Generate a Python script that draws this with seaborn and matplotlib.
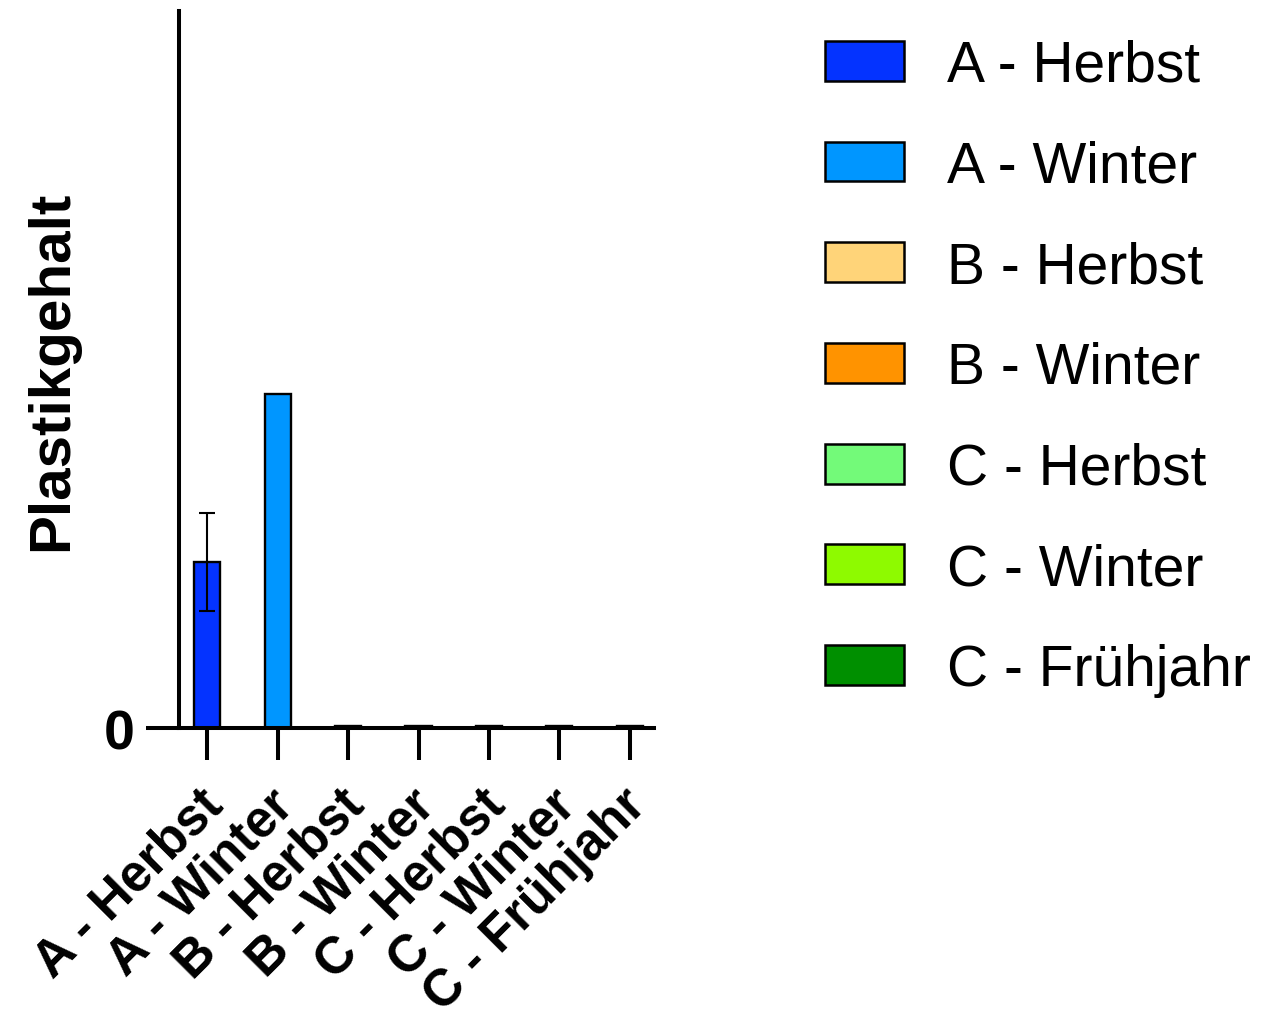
import matplotlib
matplotlib.use("Agg")
import matplotlib.pyplot as plt
import matplotlib.transforms as mtransforms
import seaborn as sns
import pandas as pd

categories = ["A - Herbst", "A - Winter", "B - Herbst", "B - Winter",
              "C - Herbst", "C - Winter", "C - Frühjahr"]
values = [1.66, 3.34, 0.02, 0.025, 0.02, 0.02, 0.02]
errors = [0.49, 0.0, 0.0, 0.0, 0.0, 0.0, 0.0]
colors = ["#0433FF", "#0096FF", "#FFD479", "#FF9300", "#73FA79", "#8EFA00", "#008F00"]
y_max = 7.17
y_label = "Plastikgehalt"

sns.set_theme(style="ticks")
plt.rcParams["font.family"] = ["Liberation Sans", "DejaVu Sans"]
plt.rcParams["text.color"] = "black"
plt.rcParams["axes.labelcolor"] = "black"
plt.rcParams["xtick.color"] = "black"
plt.rcParams["ytick.color"] = "black"

df = pd.DataFrame({"Gruppe": categories, "Wert": values})

fig = plt.figure(figsize=(12.61, 10.20), dpi=100)
ax = fig.add_axes([0.142, 0.285, 0.377, 0.703])

sns.barplot(data=df, x="Gruppe", y="Wert", hue="Gruppe", palette=colors,
            saturation=1, width=0.37, edgecolor="black", linewidth=1.7,
            legend=True, ax=ax)

xs = list(range(len(categories)))
ax.errorbar(xs[:1], values[:1], yerr=errors[:1], fmt="none", ecolor="black",
            elinewidth=1.5, capsize=5.5, capthick=1.5, zorder=5)

ax.set_xlim(-0.4, 6.35)
ax.set_ylim(0, y_max)
ax.set_yticks([0])
ax.set_yticklabels(["0"], fontsize=40, fontweight="bold")
ax.set_xlabel("")
ax.set_ylabel(y_label, fontsize=42, fontweight="bold", labelpad=18)

for s in ["top", "right"]:
    ax.spines[s].set_visible(False)
for s in ["left", "bottom"]:
    ax.spines[s].set_linewidth(2.9)
    ax.spines[s].set_color("black")

ax.tick_params(axis="y", length=24, width=2.9, pad=8)
ax.tick_params(axis="x", length=23, width=2.9, pad=14)
ax.set_xticks(xs)
ax.set_xticklabels(categories, rotation=45, ha="right", rotation_mode="anchor",
                   fontsize=37, fontweight="bold")
shift = mtransforms.ScaledTranslation(-9 / 100, 0, fig.dpi_scale_trans)
for lbl in ax.get_xticklabels():
    lbl.set_transform(lbl.get_transform() + shift)

handles, labels = ax.get_legend_handles_labels()
ax.get_legend().remove()
leg = fig.legend(handles, labels, loc="upper left", bbox_to_anchor=(0.654, 0.961),
                 frameon=False, fontsize=41, handlelength=1.39, handleheight=0.7,
                 handletextpad=0.75, labelspacing=0.82, borderpad=0, borderaxespad=0)
for h in leg.legend_handles:
    h.set_linewidth(1.8)

fig.savefig("out.png", dpi=100, facecolor="white")
